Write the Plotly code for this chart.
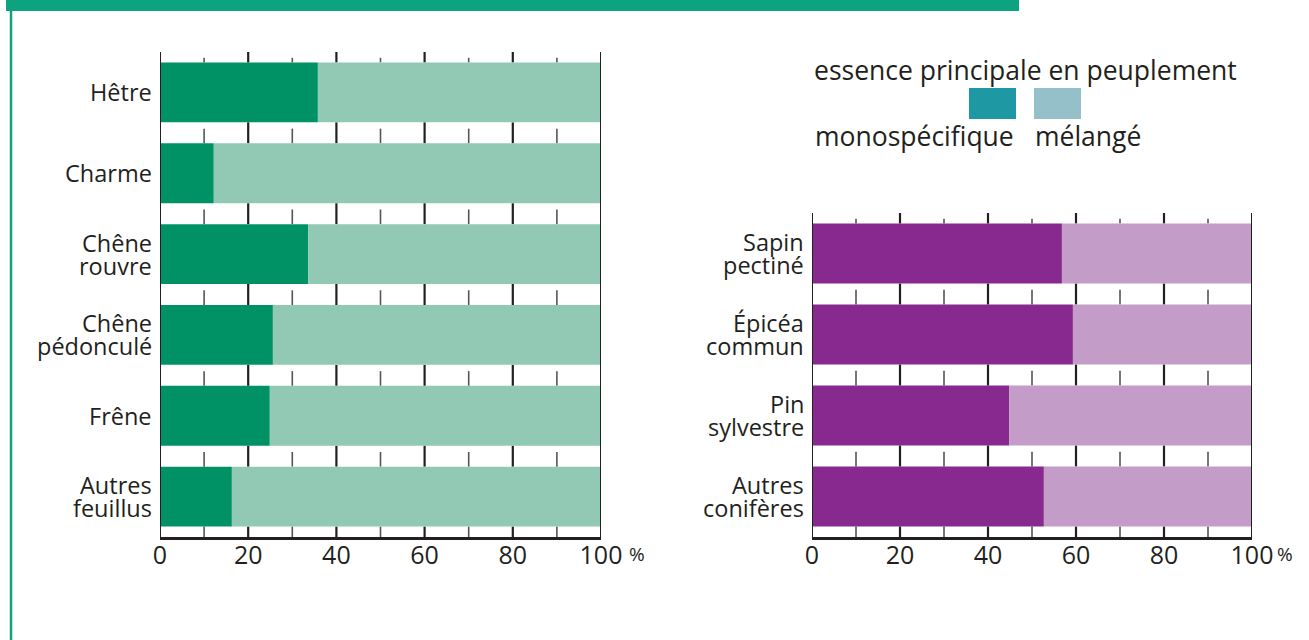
import plotly.graph_objects as go

W, H = 1309, 640

# --- données ---
feuillus = ["Hêtre", "Charme", "Chêne\nrouvre", "Chêne\npédonculé", "Frêne", "Autres\nfeuillus"]
feuillus_mono = [35.8, 12.2, 33.6, 25.6, 24.9, 16.3]

coniferes = ["Sapin\npectiné", "Épicéa\ncommun", "Pin\nsylvestre", "Autres\nconifères"]
coniferes_mono = [56.8, 59.3, 44.8, 52.7]

tick_vals = [0, 20, 40, 60, 80, 100]
tick_text = ["0", "20", "40", "60", "80", "100"]
minor_vals = [10, 30, 50, 70, 90]

GREEN_DARK, GREEN_LIGHT = "#009265", "#91c9b5"
PURPLE_DARK, PURPLE_LIGHT = "#87298e", "#c39dc8"
LEG_MONO, LEG_MIX = "#1e98a2", "#96c0c9"
HEADER = "#0ca37e"
INK = "#231f20"
FONT = "Open Sans, Noto Sans, sans-serif"

BAR_W = 0.74


def px_x(p):
    return p / W


def px_y(p):
    return 1 - p / H


fig = go.Figure()

panels = [
    # cats, mono, colors, x-domain px, y-domain px (top, bottom), axis suffix
    (feuillus, feuillus_mono, GREEN_DARK, GREEN_LIGHT, (160, 601), (52, 537), ""),
    (coniferes, coniferes_mono, PURPLE_DARK, PURPLE_LIGHT, (812, 1252), (213, 537), "2"),
]

shapes = []
annotations = []

for cats, mono, c_dark, c_light, (x0, x1), (yt, yb), ax in panels:
    n = len(cats)
    idx = list(range(n))
    mixed = [100 - v for v in mono]
    xa, ya = "x" + ax, "y" + ax
    fig.add_trace(go.Bar(y=idx, x=mono, orientation="h", marker=dict(color=c_dark, line_width=0),
                         width=BAR_W, xaxis=xa, yaxis=ya, showlegend=False,
                         hovertemplate="%{x:.0f} %<extra>monospécifique</extra>"))
    fig.add_trace(go.Bar(y=idx, x=mixed, base=mono, orientation="h",
                         marker=dict(color=c_light, line_width=0),
                         width=BAR_W, xaxis=xa, yaxis=ya, showlegend=False,
                         hovertemplate="%{x:.0f} %<extra>mélangé</extra>"))

    key = ax if ax else ""
    fig.update_layout(**{
        "xaxis" + key: dict(domain=[px_x(x0), px_x(x1)], range=[0, 100], anchor=ya,
                            tickvals=tick_vals, ticktext=tick_text, showgrid=False, zeroline=False,
                            showline=True, linecolor=INK, linewidth=2.5, ticks="",
                            automargin=False,
                            tickfont=dict(family=FONT, size=25, color=INK), fixedrange=True),
        "yaxis" + key: dict(domain=[px_y(yb), px_y(yt)], range=[n - 0.5, -0.5], anchor=xa,
                            showticklabels=False, showgrid=False, zeroline=False, ticks="",
                            automargin=False, fixedrange=True),
    })

    # marques de graduation dans les intervalles entre barres
    half = BAR_W / 2
    gaps = [(-0.5, -half, "top")]
    for i in range(n - 1):
        gaps.append((i + half, i + 1 - half, "mid"))
    gaps.append((n - 1 + half, n - 0.5, "bottom"))
    for g0, g1, kind in gaps:
        for v in tick_vals[1:-1]:
            shapes.append(dict(type="line", xref=xa, yref=ya, x0=v, x1=v, y0=g0, y1=g1,
                               line=dict(color=INK, width=2.2), layer="below"))
        gl = g1 - g0
        m0 = g0 if kind == "bottom" else g0 + gl * (0.55 if kind == "top" else 0.3)
        for v in minor_vals:
            shapes.append(dict(type="line", xref=xa, yref=ya, x0=v, x1=v, y0=m0, y1=g1,
                               line=dict(color="#555555", width=1.6), layer="below"))
    # lignes 0 et 100 sur toute la hauteur
    for v in (0, 100):
        shapes.append(dict(type="line", xref=xa, yref=ya, x0=v, x1=v, y0=-0.5, y1=n - 0.5,
                           line=dict(color=INK, width=2), layer="above"))

    # étiquettes des essences
    for i, lab in enumerate(cats):
        lines = lab.split("\n")
        k = len(lines)
        for j, ln in enumerate(lines):
            annotations.append(dict(text=ln, xref="paper", yref=ya, x=px_x(x0 - 6), y=i,
                                    xanchor="right", yanchor="middle", showarrow=False,
                                    yshift=(k - 1) * 11.5 - j * 23,
                                    font=dict(family=FONT, size=23.5, color=INK)))
    # symbole %
    annotations.append(dict(text="%", xref="paper", yref="paper", x=px_x(x1 + 26 if ax == "" else x1 + 23),
                            y=px_y(554), xanchor="left", yanchor="middle", showarrow=False,
                            font=dict(family=FONT, size=19, color=INK)))

# bandeau et filet verts
shapes.append(dict(type="rect", xref="paper", yref="paper", x0=px_x(6), x1=px_x(1019),
                   y0=px_y(11), y1=1, fillcolor=HEADER, line_width=0))
shapes.append(dict(type="line", xref="paper", yref="paper", x0=px_x(11), x1=px_x(11),
                   y0=0, y1=px_y(11), line=dict(color=HEADER, width=2.5)))

# légende
annotations.append(dict(text="essence principale en peuplement", xref="paper", yref="paper",
                        x=px_x(1025), y=px_y(70), xanchor="center", yanchor="middle",
                        showarrow=False, font=dict(family=FONT, size=26.5, color=INK)))
shapes.append(dict(type="rect", xref="paper", yref="paper", x0=px_x(969), x1=px_x(1016),
                   y0=px_y(119), y1=px_y(88), fillcolor=LEG_MONO, line_width=0))
shapes.append(dict(type="rect", xref="paper", yref="paper", x0=px_x(1034), x1=px_x(1081),
                   y0=px_y(119), y1=px_y(88), fillcolor=LEG_MIX, line_width=0))
annotations.append(dict(text="monospécifique", xref="paper", yref="paper", x=px_x(1016),
                        y=px_y(136), xanchor="right", yanchor="middle", showarrow=False,
                        font=dict(family=FONT, size=26.5, color=INK)))
annotations.append(dict(text="mélangé", xref="paper", yref="paper", x=px_x(1033),
                        y=px_y(136), xanchor="left", yanchor="middle", showarrow=False,
                        font=dict(family=FONT, size=26.5, color=INK)))

fig.update_layout(
    width=W, height=H,
    autosize=False,
    margin=dict(l=0, r=0, t=0, b=0, pad=0, autoexpand=False),
    barmode="overlay",
    showlegend=False,
    plot_bgcolor="white", paper_bgcolor="white",
    shapes=shapes, annotations=annotations,
)
fig.update_xaxes(ticklabelstandoff=-6)

fig.write_html("out.html", config={"displayModeBar": False},
               post_script="document.body.style.margin='0';document.body.style.overflow='hidden';")
